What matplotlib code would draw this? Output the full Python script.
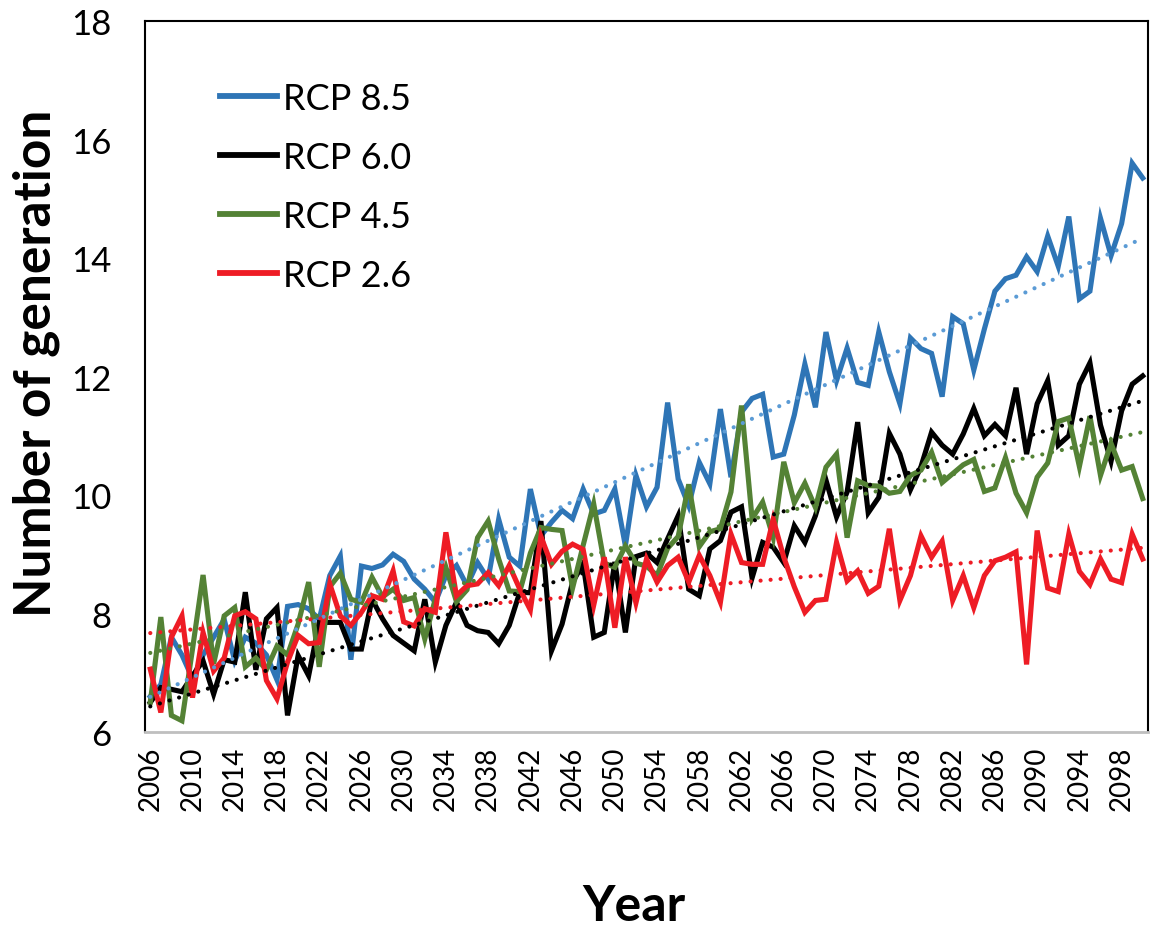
import numpy as np
import matplotlib
matplotlib.use("Agg")
import matplotlib.pyplot as plt

plt.rcParams['font.family'] = ['Lato', 'DejaVu Sans']

years = np.arange(2006, 2101)

rcp85 = [6.6, 6.8, 7.6, 7.3, 6.9, 7.3, 7.6, 7.9, 7.2, 7.6,
         7.5, 7.3, 6.88, 8.12, 8.15, 8.08, 7.9, 8.64, 8.97, 7.22,
         8.8, 8.76, 8.82, 9.0, 8.88, 8.58, 8.41, 8.19, 8.64, 8.81,
         8.47, 8.86, 8.58, 9.59, 8.95, 8.8, 10.1, 9.31, 9.54, 9.74,
         9.6, 10.1, 9.68, 9.74, 10.1, 9.14, 10.33, 9.8, 10.13, 11.56,
         10.27, 9.82, 10.55, 10.19, 11.45, 10.3, 11.4, 11.63, 11.7, 10.64,
         10.69, 11.35, 12.21, 11.48, 12.75, 11.93, 12.48, 11.9, 11.85, 12.75,
         12.08, 11.54, 12.65, 12.47, 12.39, 11.66, 13.01, 12.89, 12.11, 12.8,
         13.44, 13.65, 13.71, 14.02, 13.77, 14.37, 13.86, 14.7, 13.31, 13.44,
         14.67, 14.04, 14.58, 15.6, 15.35]

rcp60 = [6.5, 6.75, 6.72, 6.68, 6.95, 7.2, 6.64, 7.22, 7.18, 8.36,
         7.05, 7.91, 8.1, 6.28, 7.29, 6.95, 7.85, 7.85, 7.85, 7.4,
         7.4, 8.24, 7.91, 7.63, 7.5, 7.37, 8.24, 7.18, 7.8, 8.19,
         7.8, 7.71, 7.68, 7.49, 7.8, 8.36, 8.35, 9.56, 7.37, 7.82,
         8.53, 8.84, 7.6, 7.68, 8.87, 7.68, 8.96, 9.02, 8.86, 9.26,
         9.65, 8.41, 8.3, 9.09, 9.23, 9.71, 9.8, 8.6, 9.2, 9.12,
         8.86, 9.48, 9.2, 9.65, 10.25, 9.63, 10.05, 11.23, 9.7, 9.96,
         11.04, 10.69, 10.09, 10.48, 11.06, 10.84, 10.69, 11.03, 11.46, 11.0,
         11.19, 11.0, 11.81, 10.69, 11.54, 11.93, 10.84, 11.0, 11.87, 12.23,
         11.18, 10.57, 11.42, 11.87, 12.01]

rcp45 = [6.5, 7.94, 6.28, 6.19, 7.4, 8.65, 7.15, 7.96, 8.1, 7.1,
         7.25, 7.05, 7.45, 7.3, 7.82, 8.53, 7.1, 8.45, 8.68, 8.24,
         8.19, 8.61, 8.28, 8.41, 8.22, 8.27, 7.57, 8.25, 8.78, 8.2,
         8.4, 9.28, 9.56, 8.92, 8.38, 8.37, 9.02, 9.45, 9.42, 9.4,
         8.43, 9.15, 9.85, 8.85, 8.78, 9.14, 8.85, 8.8, 8.64, 9.1,
         9.3, 10.18, 9.13, 9.38, 9.43, 10.05, 11.51, 9.6, 9.88, 9.28,
         10.56, 9.87, 10.2, 9.79, 10.47, 10.69, 9.28, 10.24, 10.16, 10.15,
         10.03, 10.06, 10.33, 10.42, 10.72, 10.21, 10.36, 10.51, 10.6, 10.06,
         10.12, 10.63, 10.03, 9.7, 10.3, 10.54, 11.24, 11.3, 10.48, 11.33,
         10.33, 10.87, 10.42, 10.48, 9.94]

rcp26 = [7.06, 6.33, 7.6, 7.96, 6.58, 7.68, 7.03, 7.25, 7.96, 8.03,
         7.91, 6.87, 6.56, 7.18, 7.63, 7.49, 7.51, 8.5, 7.96, 7.8,
         8.02, 8.3, 8.24, 8.72, 7.86, 7.79, 8.08, 8.02, 9.37, 8.3,
         8.47, 8.5, 8.69, 8.47, 8.81, 8.41, 8.06, 9.3, 8.83, 9.05,
         9.17, 9.08, 8.14, 8.95, 7.76, 8.95, 8.18, 8.92, 8.53, 8.81,
         8.95, 8.53, 8.98, 8.64, 8.19, 9.34, 8.86, 8.83, 8.83, 9.59,
         8.95, 8.45, 8.02, 8.22, 8.24, 9.2, 8.55, 8.72, 8.34, 8.46,
         9.43, 8.22, 8.64, 9.31, 8.95, 9.22, 8.22, 8.64, 8.1, 8.64,
         8.89, 8.95, 9.04, 7.14, 9.4, 8.43, 8.37, 9.34, 8.71, 8.49,
         8.92, 8.58, 8.52, 9.34, 8.92]

labels = ['RCP 8.5', 'RCP 6.0', 'RCP 4.5', 'RCP 2.6']
colors = ['#2E75B6', '#000000', '#548235', '#EE1C25']
trend_colors = ['#5B9BD5', '#000000', '#548235', '#EE1C25']
series = [rcp85, rcp60, rcp45, rcp26]

fig = plt.figure(figsize=(11.53, 9.28), dpi=100)
ax = fig.add_axes([145 / 1153, (928 - 733) / 928, (1148 - 145) / 1153, (733 - 22) / 928])

# main lines
for vals, lab, col in zip(series, labels, colors):
    ax.plot(years, vals, color=col, lw=3.7, label=lab, solid_joinstyle='miter', zorder=2)

# linear trend lines (dotted)
for vals, col in zip(series, trend_colors):
    k, b = np.polyfit(years, vals, 1)
    ax.plot(years, k * years + b, color=col, lw=3.0, linestyle=(0, (0.01, 2.4)),
            dash_capstyle='round', zorder=3)

ax.set_xlim(2005.5, 2100.5)
ax.set_ylim(6, 18)
ax.set_yticks(np.arange(6, 19, 2))
ax.set_xticks(years[::4])
ax.set_xticklabels([str(y) for y in years[::4]], rotation=90)
ax.tick_params(axis='y', length=0, labelsize=25, pad=24)
ax.tick_params(axis='x', length=0, labelsize=20, pad=10)

for side in ['left', 'top', 'right']:
    ax.spines[side].set_color('black')
    ax.spines[side].set_linewidth(1.5)
ax.spines['bottom'].set_color('#BFBFBF')
ax.spines['bottom'].set_linewidth(2)

ax.set_ylabel('Number of generation', fontsize=37, fontweight='bold')
ax.set_xlabel('Year', fontsize=36, fontweight='bold')
ax.yaxis.set_label_coords(-0.085, 0.52)
ax.xaxis.set_label_coords(0.487, -0.212)

leg = ax.legend(loc='upper left', bbox_to_anchor=(0.06, 0.935), frameon=False,
                fontsize=26, handlelength=1.6, handletextpad=0.15,
                labelspacing=0.72, borderaxespad=0)
for h in leg.get_lines():
    h.set_linewidth(4.2)

fig.savefig('out.png', dpi=100)
